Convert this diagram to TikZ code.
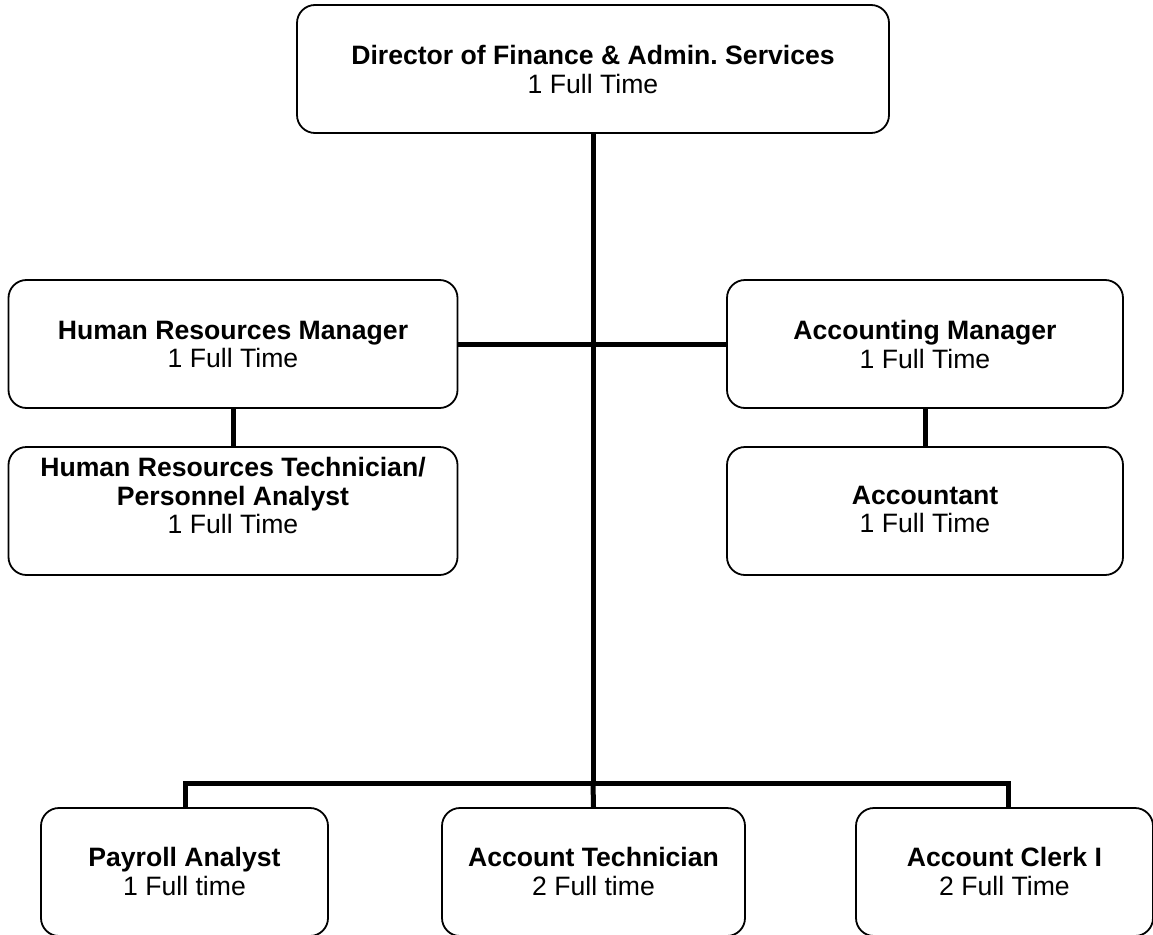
\documentclass[tikz,border=0pt]{standalone}
\usepackage{fontspec}
\setmainfont{Liberation Sans}
\frenchspacing
\begin{document}
\begin{tikzpicture}[x=1pt,y=-1pt,
  box/.style={draw=black,line width=1.8pt,rounded corners=18pt,rectangle,inner sep=0pt,fill=white},
  lbl/.style={align=center,inner sep=0pt,font=\fontsize{26.6}{28.5}\selectfont},
  conn/.style={line width=5pt,line join=miter,draw=black}]
\useasboundingbox (0,0) rectangle (1153,934);
% boxes
\node[box,minimum width=592pt,minimum height=128pt] (dir) at (593,69) {};
\node[box,minimum width=449pt,minimum height=128pt] (hrm) at (233,344) {};
\node[box,minimum width=396pt,minimum height=128pt] (am) at (925,344) {};
\node[box,minimum width=449pt,minimum height=128pt] (hrt) at (233,511) {};
\node[box,minimum width=396pt,minimum height=128pt] (acc) at (925,511) {};
\node[box,minimum width=287pt,minimum height=128pt] (pa) at (184.5,872) {};
\node[box,minimum width=303pt,minimum height=128pt] (at) at (593.5,872) {};
\node[box,minimum width=297pt,minimum height=128pt] (ac) at (1004.5,872) {};
% labels
\node[lbl] (dirT) at (593,69.5) {\textbf{Director of Finance \& Admin. Services}\\1 Full Time};
\node[lbl] (hrmT) at (233,344.5) {\textbf{Human Resources Manager}\\1 Full Time};
\node[lbl] (amT) at (925,344.5) {\textbf{Accounting Manager}\\1 Full Time};
\node[lbl] (hrtT) at (233,495.5) {\textbf{Human Resources Technician/}\\\textbf{Personnel Analyst}\\1 Full Time};
\node[lbl] (accT) at (925,509.5) {\textbf{Accountant}\\1 Full Time};
\node[lbl] (paT) at (184.5,871.5) {\textbf{Payroll Analyst}\\1 Full time};
\node[lbl] (atT) at (593.5,871.5) {\textbf{Account Technician}\\2 Full time};
\node[lbl] (acT) at (1004.5,871.5) {\textbf{Account Clerk I}\\2 Full Time};
% connectors
\coordinate (bus) at (593,783);
\draw[conn] (dir.south) -- (bus);
\draw[conn] (hrm.east) -- (am.west);
\draw[conn] (hrm.south) -- (hrt.north);
\draw[conn] (am.south) -- (acc.north);
\draw[conn] (pa.north -| 185,0) -- (185,783) -- (1008,783) -- (ac.north -| 1008,0);
\draw[conn] (bus) -- (at.north);
\end{tikzpicture}
\end{document}
